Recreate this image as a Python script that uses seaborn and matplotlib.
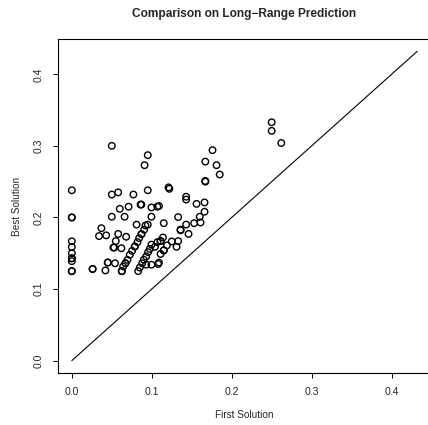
import matplotlib
matplotlib.use("Agg")
import matplotlib.pyplot as plt
import pandas as pd
import seaborn as sns

# values
first_solution = [
    0, 0, 0, 0, 0, 0, 0, 0, 0, 0, 0,
    0.026, 0.026, 0.034, 0.037, 0.043, 0.042, 0.045, 0.045, 0.054,
    0.050, 0.050, 0.058, 0.077, 0.095, 0.095, 0.091,
    0.060, 0.071, 0.086, 0.087, 0.0996, 0.107, 0.050, 0.066, 0.0996,
    0.081, 0.095, 0.058, 0.068, 0.055, 0.052, 0.053, 0.062,
    0.0625, 0.0625, 0.083,
    0.0642, 0.0671, 0.0671, 0.0696, 0.0725, 0.0754, 0.0788, 0.0788, 0.0821,
    0.0842, 0.0871, 0.0871, 0.0904, 0.0921,
    0.085, 0.088, 0.090, 0.093, 0.0954, 0.0975, 0.0996,
    0.093, 0.0996, 0.108, 0.104, 0.107,
    0.109, 0.143, 0.156, 0.166, 0.166, 0.160, 0.161, 0.153, 0.133, 0.143,
    0.115, 0.136, 0.136, 0.146, 0.114, 0.111, 0.111, 0.125, 0.133, 0.119,
    0.131, 0.115, 0.115, 0.111, 0.109,
    0.121, 0.122, 0.176, 0.167, 0.181, 0.185, 0.167, 0.167, 0.143,
    0.250, 0.250, 0.262,
]
best_solution = [
    0.238, 0.200, 0.200, 0.1667, 0.1587, 0.150, 0.1429, 0.1429, 0.1389, 0.125, 0.125,
    0.128, 0.128, 0.174, 0.185, 0.175, 0.126, 0.137, 0.137, 0.136,
    0.300, 0.232, 0.235, 0.232, 0.238, 0.287, 0.273,
    0.212, 0.215, 0.218, 0.218, 0.214, 0.215, 0.201, 0.201, 0.201,
    0.190, 0.190, 0.177, 0.173, 0.167, 0.158, 0.158, 0.157,
    0.125, 0.125, 0.125,
    0.1315, 0.136, 0.136, 0.1408, 0.1478, 0.1534, 0.1594, 0.1594, 0.1655,
    0.1711, 0.1767, 0.1767, 0.1828, 0.1888,
    0.130, 0.136, 0.141, 0.1455, 0.1515, 0.156, 0.162,
    0.134, 0.134, 0.135, 0.159, 0.1655,
    0.216, 0.225, 0.219, 0.221, 0.208, 0.201, 0.193, 0.192, 0.2005, 0.190,
    0.192, 0.182, 0.183, 0.177, 0.172, 0.167, 0.167, 0.1665, 0.167, 0.161,
    0.159, 0.154, 0.154, 0.149, 0.137,
    0.242, 0.240, 0.294, 0.278, 0.273, 0.260, 0.251, 0.250, 0.229,
    0.333, 0.321, 0.304,
]
diagonal = [0.0, 0.432]
ticks = [0.0, 0.1, 0.2, 0.3, 0.4]
tick_labels = ["0.0", "0.1", "0.2", "0.3", "0.4"]

df = pd.DataFrame({"first": first_solution, "best": best_solution})

sns.set_style("white")
plt.rcParams["font.family"] = ["Liberation Sans", "DejaVu Sans"]

fig = plt.figure(figsize=(4.28, 4.25), dpi=100)
# the frame runs a little past the right edge, as in the reference
ax = fig.add_axes([58 / 428, 52 / 425, 373 / 428, 334 / 425])

sns.scatterplot(data=df, x="first", y="best", ax=ax, marker="o",
                facecolor="none", edgecolor="black", linewidth=1.0, s=22)
sns.lineplot(x=diagonal, y=diagonal, ax=ax, color="black", linewidth=0.8)

lim = (-0.04 * diagonal[1], 1.04 * diagonal[1])
ax.set_xlim(lim)
ax.set_ylim(lim)
ax.set_xticks(ticks)
ax.set_xticklabels(tick_labels)
ax.set_yticks(ticks)
ax.set_yticklabels(tick_labels, rotation=90, va="center")
ax.tick_params(direction="out", length=3.6, width=0.7, labelsize=7.6, color="black",
               bottom=True, left=True, pad=6.5)
for sp in ax.spines.values():
    sp.set_color("black")
    sp.set_linewidth(0.8)

ax.set_xlabel("First Solution", fontsize=7.2)
ax.set_ylabel("Best Solution", fontsize=7.2)
ax.xaxis.set_label_coords(0.5, -0.112)
ax.yaxis.set_label_coords(-0.097, 0.5)
ax.set_title("Comparison on Long\u2212Range Prediction", fontsize=8.6,
             fontweight="bold", y=1.075, va="center", pad=0)

fig.savefig("out.png", dpi=100)
